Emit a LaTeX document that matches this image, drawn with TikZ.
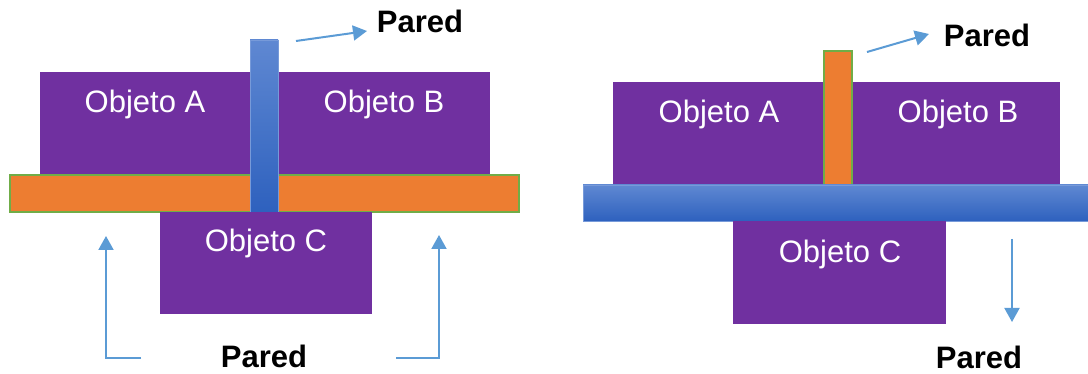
\documentclass[tikz,border=0pt]{standalone}
\usepackage{fontspec}
\setmainfont{Liberation Sans}
\usetikzlibrary{arrows.meta}
\definecolor{objpurple}{HTML}{7030A0}
\definecolor{barorange}{HTML}{ED7D31}
\definecolor{bargreen}{HTML}{70AD47}
\definecolor{arrowblue}{HTML}{5B9BD5}
\definecolor{walltop}{HTML}{5F88D2}
\definecolor{wallbot}{HTML}{2E61BE}
\begin{document}
\begin{tikzpicture}[x=1pt,y=-1pt,
  box/.style={inner sep=0pt, outer sep=0pt, anchor=north west},
  objbox/.style={box, fill=objpurple},
  orangebar/.style={box, fill=barorange, draw=bargreen, line width=1.2pt},
  wallbar/.style={box, top color=walltop, bottom color=wallbot, draw=walltop!85!white, line width=0.6pt},
  objlabel/.style={text=white, anchor=base, inner sep=0pt, font=\fontsize{31}{36}\selectfont},
  wallname/.style={text=black, anchor=base, inner sep=0pt, font=\fontsize{31}{36}\selectfont\bfseries},
  wallarrow/.style={draw=arrowblue, line width=2pt, -{Triangle[width=15pt,length=14pt]}}
]
\useasboundingbox (0,0) rectangle (1088,374);

% ---- left: vertical wall between A and B ----
\node[objbox, minimum width=450pt, minimum height=104pt] (abL) at (40,72) {};
\node[orangebar, minimum width=509pt, minimum height=37pt] (barL) at (10,175) {};
\node[wallbar, minimum width=28pt, minimum height=172pt] (wallL) at (250,40) {};
\node[objbox, minimum width=212pt, minimum height=102pt] (cL) at (160,212) {};

\node[objlabel] (aL) at (145,113) {Objeto A};
\node[objlabel] (bL) at (384,113) {Objeto B};
\node[objlabel] (cLt) at (266,252) {Objeto C};

\node[wallname] (pTopL) at (420,33) {Pared};
\node[wallname] (pBotL) at (264,367) {Pared};

\coordinate (tl1) at (296,41);
\coordinate (tl2) at (367,31);
\draw[wallarrow] (tl1) -- (tl2);

\coordinate (bl1) at (141,358);
\coordinate (bl2) at (106,236);
\draw[wallarrow] (bl1) -| (bl2);

\coordinate (br1) at (396,358);
\coordinate (br2) at (439,235);
\draw[wallarrow] (br1) -| (br2);

% ---- right: horizontal wall below A and B ----
\node[objbox, minimum width=447pt, minimum height=103pt] (abR) at (613,82) {};
\node[orangebar, minimum width=28pt, minimum height=134pt] (barR) at (824,51) {};
\node[wallbar, minimum width=505pt, minimum height=36pt] (wallR) at (583,185) {};
\node[objbox, minimum width=213pt, minimum height=103pt] (cR) at (733,221) {};

\node[objlabel] (aR) at (719,123) {Objeto A};
\node[objlabel] (bR) at (958,123) {Objeto B};
\node[objlabel] (cRt) at (840,263) {Objeto C};

\node[wallname] (pTopR) at (987,47) {Pared};
\node[wallname] (pBotR) at (979,368) {Pared};

\coordinate (tr1) at (867,52);
\coordinate (tr2) at (929,34);
\draw[wallarrow] (tr1) -- (tr2);

\coordinate (dr1) at (1012,239);
\coordinate (dr2) at (1012,322);
\draw[wallarrow] (dr1) -- (dr2);
\end{tikzpicture}
\end{document}
